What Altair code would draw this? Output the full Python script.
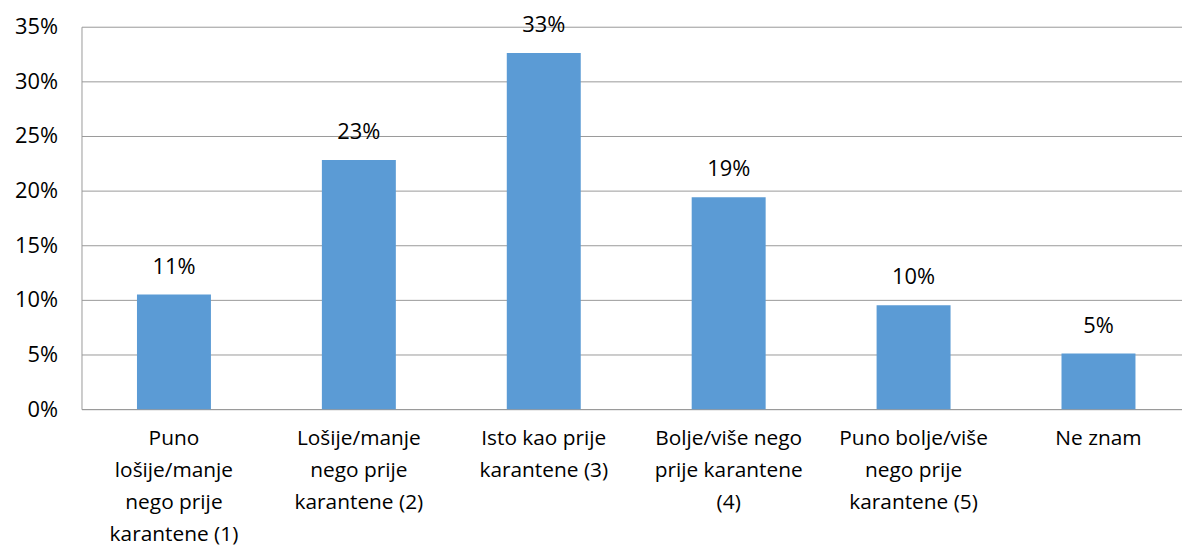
import altair as alt
import pandas as pd

categories = [
    "Puno lošije/manje nego prije karantene (1)",
    "Lošije/manje nego prije karantene (2)",
    "Isto kao prije karantene (3)",
    "Bolje/više nego prije karantene (4)",
    "Puno bolje/više nego prije karantene (5)",
    "Ne znam",
]
label_lines = [
    ["Puno", "lošije/manje", "nego prije", "karantene (1)"],
    ["Lošije/manje", "nego prije", "karantene (2)"],
    ["Isto kao prije", "karantene (3)"],
    ["Bolje/više nego", "prije karantene", "(4)"],
    ["Puno bolje/više", "nego prije", "karantene (5)"],
    ["Ne znam"],
]
values = [0.105, 0.228, 0.326, 0.194, 0.095, 0.051]
value_labels = ["11%", "23%", "33%", "19%", "10%", "5%"]

df = pd.DataFrame({"cat": categories, "val": values, "lbl": value_labels})

def js_str(s):
    return "'" + s.replace("\\", "\\\\").replace("'", "\\'") + "'"

mapping = "{" + ", ".join(
    js_str(c) + ": [" + ", ".join(js_str(l) for l in lines) + "]"
    for c, lines in zip(categories, label_lines)
) + "}"

FONT = "Open Sans"
FS = 22

x_scale = alt.Scale(paddingInner=0.6, paddingOuter=0.3, range=[0, 1117])

x = alt.X(
    "cat:N",
    sort=categories,
    scale=x_scale,
    axis=alt.Axis(
        title=None,
        labelAngle=0,
        labelExpr=mapping + "[datum.label]",
        labelFont=FONT,
        labelFontSize=21,
        labelColor="#000000",
        labelLineHeight=32,
        labelBaseline="top",
        labelPadding=19,
        ticks=False,
        domainColor="#999999",
        labelLimit=300,
    ),
)
y = alt.Y(
    "val:Q",
    scale=alt.Scale(domain=[0, 0.35]),
    axis=alt.Axis(
        title=None,
        format=".0%",
        values=[0, 0.05, 0.1, 0.15, 0.2, 0.25, 0.3, 0.35],
        labelFont=FONT,
        labelFontSize=FS,
        labelColor="#000000",
        labelPadding=24,
        ticks=False,
        domainColor="#999999",
        gridColor="#999999",
        grid=True,
    ),
)

bars = alt.Chart(df).mark_bar(color="#5B9BD5").encode(x=x, y=y)
texts = alt.Chart(df).mark_text(
    baseline="bottom", dy=-16, font=FONT, fontSize=FS, color="#000000"
).encode(x=alt.X("cat:N", sort=categories), y="val:Q", text="lbl:N")

chart = (
    alt.layer(bars, texts)
    .properties(
        width=1108,
        height=385,
        autosize=alt.AutoSizeParams(type="none"),
        padding={"left": 74, "top": 17, "right": 0, "bottom": 144},
    )
    .configure_view(stroke=None)
    .configure_axisX(grid=False)
)

chart.save("out.html", embed_options={"renderer": "svg", "actions": False})
